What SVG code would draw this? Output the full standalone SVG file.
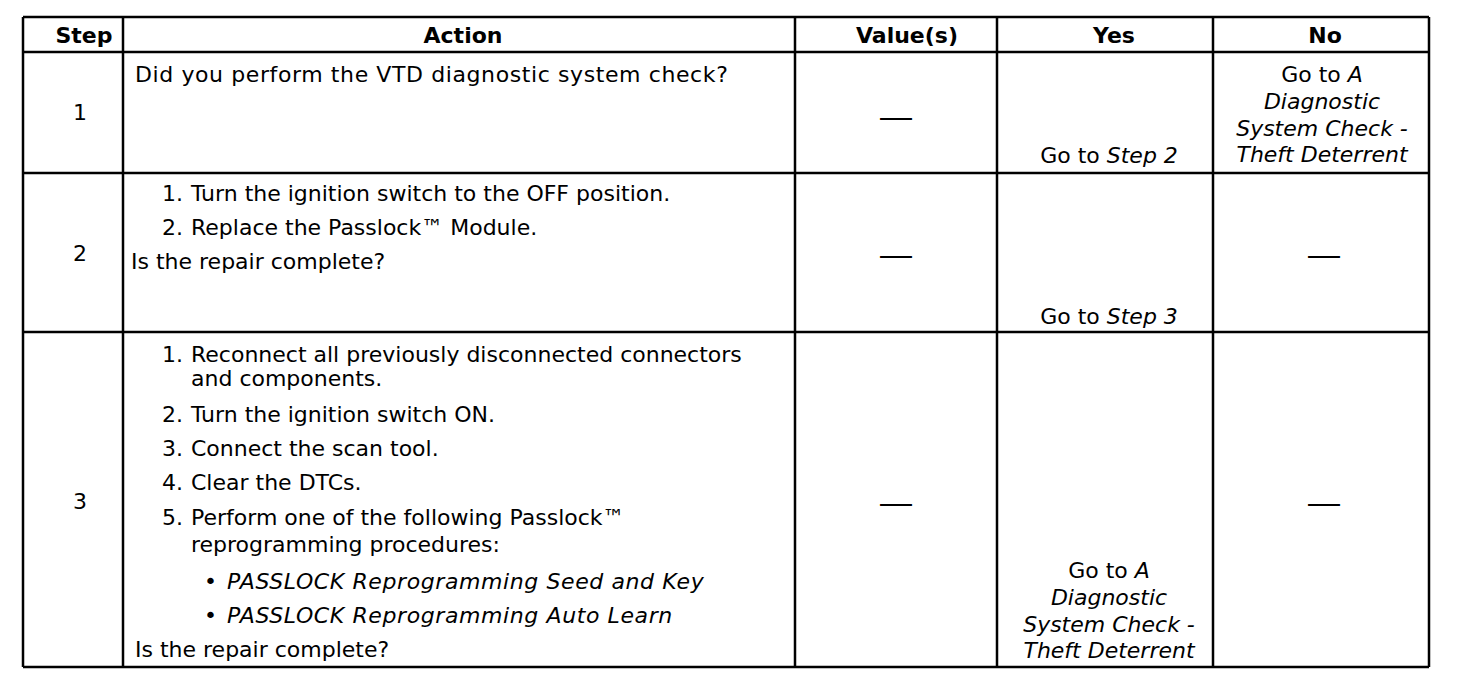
<svg xmlns="http://www.w3.org/2000/svg" width="1472" height="686" viewBox="0 0 1472 686">
<style>
  text { font-family: "DejaVu Sans", "Liberation Sans", sans-serif; font-size: 22px; fill: #000; }
  .h { font-weight: bold; text-anchor: middle; }
  .c { text-anchor: middle; }
  .i { font-style: italic; }
  .w { letter-spacing: 0.6px; }
  .dash { font-family: "Liberation Sans", sans-serif; font-size: 32px; text-anchor: middle; }
  .grid line { stroke: #000; stroke-width: 2.5; }
</style>
<rect x="0" y="0" width="1472" height="686" fill="#fff"/>
<g id="grid" class="grid">
  <line x1="23" y1="17" x2="1429" y2="17"/>
  <line x1="23" y1="52" x2="1429" y2="52"/>
  <line x1="23" y1="173" x2="1429" y2="173"/>
  <line x1="23" y1="332" x2="1429" y2="332"/>
  <line x1="23" y1="667" x2="1429" y2="667"/>
  <line x1="23" y1="17" x2="23" y2="667"/>
  <line x1="123" y1="17" x2="123" y2="667"/>
  <line x1="795" y1="17" x2="795" y2="667"/>
  <line x1="997" y1="17" x2="997" y2="667"/>
  <line x1="1213" y1="17" x2="1213" y2="667"/>
  <line x1="1429" y1="17" x2="1429" y2="667"/>
</g>
<g id="header">
  <text class="h" x="84" y="43">Step</text>
  <text class="h" x="463" y="43">Action</text>
  <text class="h" x="907" y="43">Value(s)</text>
  <text class="h" x="1114" y="43">Yes</text>
  <text class="h" x="1325" y="43">No</text>
</g>
<g id="row1">
  <text class="c" x="80" y="120">1</text>
  <text x="135" y="82" class="w">Did you perform the VTD diagnostic system check?</text>
  <text class="dash" x="896" y="127">—</text>
  <text class="c" x="1109" y="163">Go to <tspan class="i">Step 2</tspan></text>
  <text class="c" x="1322" y="82">Go to <tspan class="i">A</tspan></text>
  <text class="c i" x="1322" y="109">Diagnostic</text>
  <text class="c i" x="1322" y="136">System Check -</text>
  <text class="c i" x="1322" y="162">Theft Deterrent</text>
</g>
<g id="row2">
  <text class="c" x="80" y="261">2</text>
  <text x="162" y="201">1.</text>
  <text x="191" y="201">Turn the ignition switch to the OFF position.</text>
  <text x="162" y="235">2.</text>
  <text x="191" y="235">Replace the Passlock™ Module.</text>
  <text x="131" y="269">Is the repair complete?</text>
  <text class="dash" x="896" y="265">—</text>
  <text class="c" x="1109" y="324">Go to <tspan class="i">Step 3</tspan></text>
  <text class="dash" x="1324" y="265">—</text>
</g>
<g id="row3">
  <text class="c" x="80" y="509">3</text>
  <text x="162" y="362">1.</text>
  <text x="191" y="362">Reconnect all previously disconnected connectors</text>
  <text x="191" y="386">and components.</text>
  <text x="162" y="422">2.</text>
  <text x="191" y="422">Turn the ignition switch ON.</text>
  <text x="162" y="456">3.</text>
  <text x="191" y="456">Connect the scan tool.</text>
  <text x="162" y="490">4.</text>
  <text x="191" y="490">Clear the DTCs.</text>
  <text x="162" y="525">5.</text>
  <text x="191" y="525">Perform one of the following Passlock™</text>
  <text x="191" y="552">reprogramming procedures:</text>
  <text x="204" y="589">•</text>
  <text class="i w" x="227" y="589">PASSLOCK Reprogramming Seed and Key</text>
  <text x="204" y="623">•</text>
  <text class="i w" x="227" y="623">PASSLOCK Reprogramming Auto Learn</text>
  <text x="135" y="657">Is the repair complete?</text>
  <text class="dash" x="896" y="513">—</text>
  <text class="c" x="1109" y="578">Go to <tspan class="i">A</tspan></text>
  <text class="c i" x="1109" y="605">Diagnostic</text>
  <text class="c i" x="1109" y="632">System Check -</text>
  <text class="c i" x="1109" y="658">Theft Deterrent</text>
  <text class="dash" x="1324" y="513">—</text>
</g>
</svg>
